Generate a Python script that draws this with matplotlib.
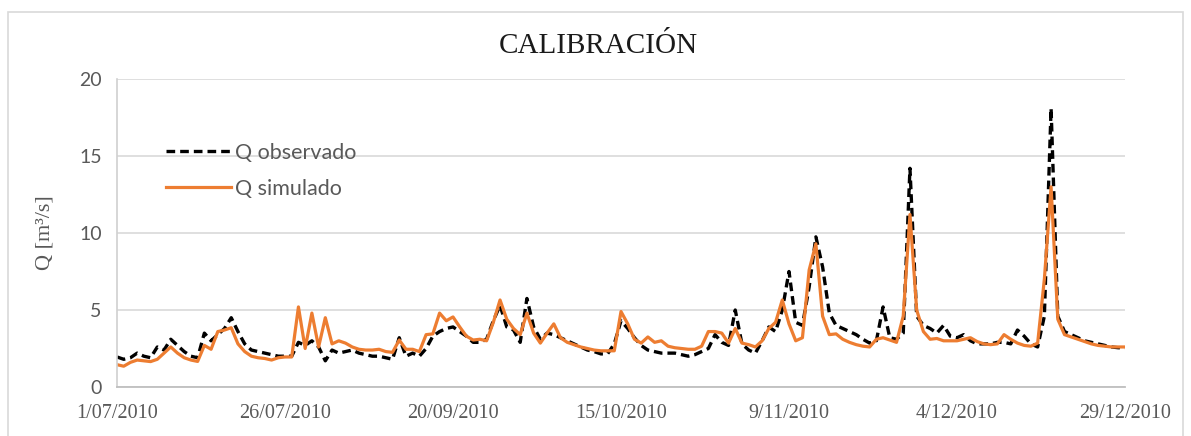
#Grafica de calibracion: caudal observado vs simulado
import matplotlib.pyplot as plt
from matplotlib.patches import Rectangle

#Etiquetas del eje x (cada 25 datos)
tickPos = [0, 25, 50, 75, 100, 125, 150]
tickLabels = ["1/07/2010", "26/07/2010", "20/09/2010", "15/10/2010",
              "9/11/2010", "4/12/2010", "29/12/2010"]

#Caudal observado [m3/s]
qObs = [1.95, 1.8, 1.9, 2.2, 2.0, 1.9, 2.6, 2.4, 3.1, 2.7,
        2.3, 2.0, 1.9, 3.5, 3.0, 3.4, 3.8, 4.5, 3.6, 2.8,
        2.4, 2.3, 2.2, 2.1, 2.0, 2.0, 2.0, 2.9, 2.7, 3.0,
        2.6, 1.7, 2.4, 2.2, 2.3, 2.4, 2.2, 2.1, 2.0, 2.0,
        1.9, 1.8, 3.2, 2.0, 2.2, 2.0, 2.5, 3.3, 3.6, 3.8,
        3.9, 3.6, 3.3, 2.9, 2.9, 3.1, 4.3, 5.3, 3.9, 3.7,
        2.9, 5.75, 3.9, 3.1, 3.5, 3.4, 3.2, 3.0, 2.8, 2.6,
        2.4, 2.3, 2.15, 2.15, 2.8, 4.3, 3.8, 3.2, 2.7, 2.4,
        2.3, 2.2, 2.2, 2.2, 2.1, 2.0, 2.1, 2.3, 2.5, 3.4,
        2.9, 2.7, 5.0, 2.8, 2.4, 2.2, 3.0, 3.9, 3.6, 5.0,
        7.5, 4.2, 4.0, 6.5, 9.75, 7.8, 4.8, 4.0, 3.8, 3.6,
        3.4, 3.1, 2.85, 3.0, 5.2, 3.2, 3.1, 3.5, 14.2, 4.6,
        4.0, 3.8, 3.5, 4.0, 3.3, 3.2, 3.4, 3.0, 2.8, 2.8,
        2.8, 2.9, 2.9, 2.8, 3.7, 3.3, 2.8, 2.6, 4.6, 18.1,
        4.6, 3.6, 3.4, 3.2, 3.0, 2.9, 2.8, 2.7, 2.6, 2.55,
        2.55]

#Caudal simulado [m3/s]
qSim = [1.45, 1.35, 1.6, 1.75, 1.7, 1.65, 1.8, 2.2, 2.6, 2.2,
        1.9, 1.75, 1.66, 2.7, 2.45, 3.6, 3.7, 3.85, 2.8, 2.3,
        2.0, 1.9, 1.85, 1.75, 1.9, 1.95, 1.95, 5.2, 2.5, 4.8,
        2.6, 4.5, 2.8, 3.0, 2.85, 2.6, 2.45, 2.4, 2.4, 2.45,
        2.3, 2.25, 3.05, 2.45, 2.45, 2.3, 3.4, 3.45, 4.8, 4.3,
        4.55, 3.9, 3.3, 3.05, 3.1, 3.0, 4.2, 5.65, 4.4, 3.8,
        3.4, 4.8, 3.5, 2.85, 3.5, 4.1, 3.2, 2.9, 2.75, 2.6,
        2.5, 2.4, 2.35, 2.35, 2.35, 4.9, 4.1, 3.1, 2.85, 3.25,
        2.9, 3.0, 2.65, 2.55, 2.5, 2.45, 2.45, 2.65, 3.6, 3.6,
        3.5, 2.85, 3.8, 2.85, 2.75, 2.6, 3.0, 3.8, 4.2, 5.65,
        4.1, 3.0, 3.2, 7.6, 9.3, 4.6, 3.4, 3.45, 3.1, 2.9,
        2.75, 2.65, 2.6, 3.1, 3.2, 3.05, 2.9, 4.6, 11.2, 5.0,
        3.6, 3.1, 3.15, 3.0, 3.0, 3.0, 3.1, 3.2, 2.95, 2.8,
        2.75, 2.8, 3.4, 3.1, 2.85, 2.7, 2.65, 2.85, 7.0, 13.0,
        4.4, 3.4, 3.25, 3.1, 2.95, 2.8, 2.7, 2.65, 2.6, 2.6,
        2.6]

dias = list(range(len(qObs)))

fig = plt.figure(figsize=(11.91, 4.36), dpi=100)
ax = fig.add_axes([117/1191, 1 - 387/436, 1008/1191, 308/436])

#Marco del grafico (como en Excel)
fig.patches.append(Rectangle((8/1191, -0.1), 1175/1191, 1.1 - 12/436,
                             transform=fig.transFigure, fill=False,
                             edgecolor="#d9d9d9", linewidth=1.2))

ax.plot(dias, qObs, color="black", linewidth=2.4, linestyle=(0, (2.6, 1.5)),
        label="Q observado")
ax.plot(dias, qSim, color="#ED7D31", linewidth=2.3, label="Q simulado")

ax.set_xlim(0, 150)
ax.set_ylim(0, 20)
ax.set_yticks([0, 5, 10, 15, 20])
ax.set_xticks(tickPos)
ax.set_xticklabels(tickLabels, family="Liberation Serif", fontsize=14.5, color="#595959")
for lbl in ax.get_yticklabels():
    lbl.set_family("Lato")
    lbl.set_fontsize(14)
    lbl.set_color("#595959")
ax.tick_params(axis="both", length=0)
ax.tick_params(axis="x", pad=12)
ax.tick_params(axis="y", pad=11)

ax.grid(axis="y", color="#d9d9d9", linewidth=1.2)
ax.set_axisbelow(True)
for s in ["top", "right"]:
    ax.spines[s].set_visible(False)
ax.spines["bottom"].set_color("#bfbfbf")
ax.spines["bottom"].set_linewidth(1.3)
ax.spines["left"].set_color("#d0d0d0")
ax.spines["left"].set_linewidth(1.2)

ax.set_ylabel("Q [m³/s]", family="Liberation Serif", fontsize=16, color="#595959")
ax.yaxis.set_label_coords(-0.062, 0.5)

fig.text(0.502, 1 - 46/436, "CALIBRACIÓN", family="Liberation Serif",
         fontsize=21, color="#1a1a1a", ha="center", va="center")

leg = ax.legend(loc="upper left", bbox_to_anchor=(0.038, 0.828), frameon=False,
                borderpad=0, handlelength=3.0, handletextpad=0.2,
                labelspacing=0.75, prop={"family": "Lato", "size": 15.5})
for t in leg.get_texts():
    t.set_color("#595959")

plt.savefig("out.png")
